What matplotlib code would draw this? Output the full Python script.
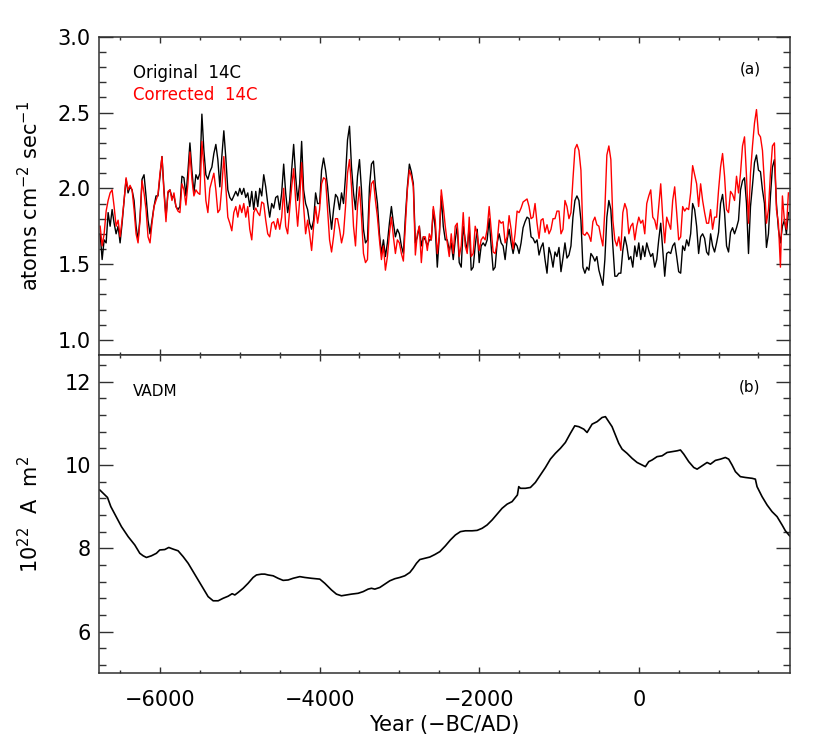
import numpy as np
import matplotlib
matplotlib.use("Agg")
import matplotlib.pyplot as plt
from matplotlib.ticker import MultipleLocator, FixedLocator, FormatStrFormatter

# 14C production rate, sampled every 25 yr from 6750 BC
orig_14c = [
    1.70, 1.53, 1.66, 1.64, 1.84, 1.75, 1.86, 1.77, 1.70, 1.75,
    1.64, 1.77, 1.92, 2.06, 1.97, 2.01, 1.99, 1.92, 1.75, 1.66,
    1.81, 2.06, 2.09, 1.95, 1.79, 1.70, 1.79, 1.88, 1.95, 1.95,
    2.08, 2.21, 1.99, 1.81, 1.97, 1.99, 1.94, 1.95, 1.88, 1.86,
    1.88, 2.08, 2.07, 1.95, 2.11, 2.30, 2.12, 1.97, 2.09, 2.06,
    2.10, 2.49, 2.25, 2.09, 2.06, 2.11, 2.14, 2.23, 2.29, 2.19,
    2.01, 2.21, 2.38, 2.20, 1.99, 1.94, 1.92, 1.95, 1.98, 1.95,
    2.00, 1.96, 2.00, 1.94, 1.97, 1.88, 1.98, 1.86, 1.98, 1.88,
    2.00, 1.95, 2.09, 2.01, 1.90, 1.81, 1.90, 1.87, 1.94, 1.95,
    1.86, 1.97, 2.16, 1.97, 1.84, 1.92, 2.12, 2.29, 2.08, 1.92,
    2.03, 2.31, 1.99, 1.90, 1.86, 1.77, 1.73, 1.79, 1.97, 1.90,
    1.90, 2.12, 2.20, 2.12, 2.01, 1.86, 1.73, 1.86, 1.96, 1.94,
    1.86, 1.97, 1.90, 2.08, 2.32, 2.41, 2.14, 1.97, 1.86, 2.08,
    2.19, 1.99, 1.73, 1.64, 1.66, 2.01, 2.16, 2.18, 2.01, 1.90,
    1.70, 1.57, 1.66, 1.55, 1.64, 1.77, 1.88, 1.77, 1.68, 1.73,
    1.70, 1.62, 1.57, 1.81, 2.01, 2.16, 2.11, 2.03, 1.64, 1.68,
    1.75, 1.62, 1.68, 1.66, 1.62, 1.66, 1.66, 1.86, 1.73, 1.48,
    1.68, 1.95, 1.75, 1.66, 1.66, 1.59,
    1.64, 1.53, 1.66, 1.75, 1.51, 1.48, 1.75, 1.66, 1.59, 1.75,
    1.46, 1.48, 1.62, 1.73, 1.51, 1.62, 1.64, 1.62, 1.66, 1.80,
    1.62, 1.46, 1.48, 1.64, 1.70, 1.64, 1.62, 1.53, 1.66, 1.73,
    1.64, 1.57, 1.64, 1.62, 1.57, 1.64, 1.74, 1.78, 1.81, 1.80,
    1.68, 1.67, 1.64, 1.66, 1.56, 1.61, 1.64, 1.53, 1.44, 1.61,
    1.56, 1.48, 1.58, 1.55, 1.61, 1.45, 1.54, 1.64, 1.54, 1.56,
    1.62, 1.81, 1.92, 1.95, 1.92, 1.79, 1.48, 1.44, 1.48, 1.46,
    1.57, 1.55, 1.52, 1.55, 1.46, 1.41, 1.36, 1.53, 1.81, 1.92,
    1.86, 1.62, 1.42, 1.42, 1.44,
    1.44, 1.59, 1.68, 1.62, 1.53, 1.55, 1.48, 1.62, 1.55, 1.64,
    1.53, 1.62, 1.55, 1.64, 1.59, 1.55, 1.57, 1.48, 1.53, 1.66,
    1.77, 1.59, 1.42, 1.57, 1.58, 1.57, 1.62, 1.64, 1.55, 1.45,
    1.44, 1.62, 1.59, 1.66, 1.62, 1.70, 1.90, 1.86, 1.75, 1.57,
    1.68, 1.70, 1.67, 1.58, 1.56, 1.70, 1.62, 1.58, 1.64, 1.71,
    1.90, 1.96, 1.84, 1.62, 1.58, 1.71, 1.74, 1.70, 1.74, 1.79,
    1.99, 2.05, 2.07, 1.90, 1.57, 1.88, 2.02, 2.17, 2.22, 2.12,
    2.11, 1.99, 1.90, 1.61, 1.70, 1.95, 2.14, 2.19, 1.90, 1.73,
    1.64, 1.75, 1.79, 1.70, 1.84,
]

corr_14c = [
    1.75, 1.62, 1.70, 1.85, 1.92, 1.97, 1.99, 1.88, 1.75, 1.79,
    1.68, 1.79, 1.92, 2.07, 1.99, 2.02, 1.99, 1.86, 1.70, 1.64,
    1.79, 2.05, 1.97, 1.86, 1.68, 1.64, 1.77, 1.88, 1.92, 1.96,
    2.10, 2.21, 1.97, 1.78, 1.98, 1.99, 1.92, 1.97, 1.88, 1.85,
    1.84, 2.03, 1.99, 1.89, 2.03, 2.24, 2.06, 1.95, 1.99, 1.97,
    1.96, 2.31, 2.14, 1.92, 1.84, 2.00, 2.05, 2.10, 1.99, 1.84,
    1.86, 2.01, 2.21, 2.01, 1.81, 1.77, 1.72, 1.84, 1.88, 1.81,
    1.89, 1.84, 1.90, 1.81, 1.88, 1.73, 1.66, 1.84, 1.87, 1.84,
    1.82, 1.91, 1.90, 1.79, 1.70, 1.68, 1.77, 1.78, 1.73, 1.80,
    1.73, 1.81, 2.00, 1.75, 1.70, 1.86, 2.01, 2.13, 1.92, 1.75,
    1.92, 2.17, 1.88, 1.70, 1.79, 1.70, 1.59, 1.75, 1.88, 1.77,
    1.86, 2.03, 2.07, 2.06, 1.86, 1.66, 1.58, 1.68, 1.80, 1.80,
    1.73, 1.64, 1.70, 1.88, 2.10, 2.19, 2.01, 1.75, 1.62, 1.88,
    2.01, 1.81, 1.57, 1.51, 1.53, 1.90, 2.03, 2.05, 1.92, 1.81,
    1.66, 1.53, 1.62, 1.46, 1.55, 1.70, 1.81, 1.68, 1.57, 1.66,
    1.64, 1.57, 1.52, 1.75, 1.99, 2.12, 2.08, 2.01, 1.56, 1.70,
    1.75, 1.51, 1.68, 1.68, 1.59, 1.70, 1.66, 1.88, 1.79, 1.57,
    1.68, 1.99, 1.88, 1.75, 1.64, 1.55,
    1.70, 1.57, 1.75, 1.77, 1.55, 1.62, 1.84, 1.62, 1.57, 1.81,
    1.55, 1.57, 1.75, 1.70, 1.59, 1.66, 1.68, 1.66, 1.73, 1.88,
    1.73, 1.58, 1.57, 1.64, 1.79, 1.77, 1.78, 1.64, 1.68, 1.82,
    1.73, 1.60, 1.70, 1.85, 1.84, 1.87, 1.91, 1.92, 1.93, 1.88,
    1.80, 1.81, 1.90, 1.77, 1.67, 1.79, 1.80, 1.71, 1.76, 1.70,
    1.73, 1.80, 1.80, 1.85, 1.85, 1.70, 1.73, 1.92, 1.88, 1.80,
    1.84, 2.06, 2.26, 2.29, 2.25, 2.12, 1.70, 1.69, 1.71, 1.69,
    1.65, 1.78, 1.81, 1.76, 1.75, 1.68, 1.62, 1.86, 2.22, 2.28,
    2.19, 1.79, 1.66, 1.62, 1.68,
    1.59, 1.84, 1.90, 1.86, 1.70, 1.75, 1.77, 1.66, 1.75, 1.81,
    1.77, 1.79, 1.70, 1.90, 1.95, 1.99, 1.81, 1.79, 1.73, 1.88,
    2.03, 1.81, 1.64, 1.81, 1.77, 1.73, 1.92, 2.01, 1.84, 1.66,
    1.68, 1.88, 1.85, 1.87, 1.86, 1.97, 2.15, 2.09, 2.03, 1.88,
    2.03, 1.92, 1.84, 1.77, 1.77, 1.86, 1.73, 1.81, 1.81, 1.99,
    2.14, 2.23, 2.08, 1.86, 1.84, 1.98, 1.96, 1.92, 2.08, 1.97,
    2.10, 2.28, 2.34, 2.08, 1.77, 2.10, 2.28, 2.43, 2.52, 2.36,
    2.34, 2.25, 2.03, 1.77, 1.86, 2.10, 2.28, 2.30, 1.86, 1.77,
    1.48, 1.95, 1.79, 1.73, 1.97,
]

year_orig = -6750 + 25 * np.arange(len(orig_14c))
year_corr = -6750 + 25 * np.arange(len(corr_14c))

# virtual axial dipole moment (10^22 A m^2)
vadm_year = [
    -6754, -6658, -6616, -6566, -6483, -6399, -6316, -6253, -6211, -6170,
    -6107, -6045, -6003, -5940, -5890, -5835, -5773, -5710, -5647, -5585,
    -5522, -5459, -5397, -5334, -5271, -5209, -5146, -5096, -5062, -5021,
    -4958, -4896, -4833, -4791, -4729, -4687, -4645, -4582, -4520, -4457,
    -4394, -4332, -4248, -4186, -4102, -3997, -3935, -3851, -3789, -3726,
    -3663, -3601, -3517, -3454, -3392, -3350, -3308, -3245, -3183, -3120,
    -3057, -2995, -2932, -2869, -2828, -2786, -2744, -2681, -2619, -2556,
    -2493, -2423, -2361, -2298, -2235, -2173, -2089, -2026, -1963, -1901,
    -1838, -1775, -1713, -1650, -1588, -1521, -1504, -1483, -1421, -1358,
    -1296, -1233, -1170, -1108, -1045, -982, -920, -857, -802, -752,
    -689, -648, -585, -522, -460, -418, -376, -335, -293, -251,
    -209, -147, -84, -21, 41, 83, 125, 167, 229, 292,
    355, 417, 480, 522, 564, 626, 689, 731, 793, 856,
    898, 960, 1023, 1085, 1127, 1169, 1211, 1273, 1336, 1420,
    1461, 1482, 1545, 1608, 1670, 1733, 1796, 1837, 1890,
]
vadm = [
    9.40, 9.22, 9.00, 8.82, 8.52, 8.28, 8.08, 7.88, 7.82, 7.78,
    7.82, 7.88, 7.96, 7.97, 8.02, 7.98, 7.94, 7.80, 7.64, 7.44,
    7.24, 7.04, 6.84, 6.74, 6.74, 6.80, 6.85, 6.91, 6.88, 6.94,
    7.04, 7.16, 7.30, 7.36, 7.38, 7.38, 7.36, 7.34, 7.28, 7.23,
    7.24, 7.28, 7.32, 7.30, 7.28, 7.26, 7.16, 7.00, 6.90, 6.86,
    6.88, 6.90, 6.92, 6.96, 7.02, 7.04, 7.02, 7.06, 7.14, 7.22,
    7.27, 7.30, 7.34, 7.42, 7.52, 7.64, 7.73, 7.76, 7.79, 7.85,
    7.92, 8.06, 8.20, 8.32, 8.40, 8.42, 8.42, 8.43, 8.48, 8.56,
    8.68, 8.82, 8.96, 9.06, 9.12, 9.28, 9.48, 9.44, 9.44, 9.46,
    9.58, 9.76, 9.94, 10.14, 10.28, 10.40, 10.54, 10.76, 10.94, 10.92,
    10.86, 10.78, 10.98, 11.04, 11.14, 11.16, 11.04, 10.92, 10.72, 10.52,
    10.38, 10.28, 10.16, 10.06, 10.00, 9.96, 10.08, 10.12, 10.20, 10.22,
    10.30, 10.32, 10.34, 10.36, 10.26, 10.08, 9.94, 9.90, 9.98, 10.06,
    10.02, 10.11, 10.14, 10.18, 10.14, 10.00, 9.84, 9.72, 9.70, 9.68,
    9.66, 9.48, 9.24, 9.04, 8.88, 8.76, 8.56, 8.42, 8.30,
]

spine_col = '#303030'

fig = plt.figure(figsize=(8.3, 7.48), dpi=100)
ax1 = fig.add_axes([0.1196, 0.5254, 0.8322, 0.4253])
ax2 = fig.add_axes([0.1196, 0.0999, 0.8322, 0.4255], sharex=ax1)

ax1.plot(year_orig, orig_14c, color='black', lw=1.0)
ax1.plot(year_corr, corr_14c, color='red', lw=1.0)
ax2.plot(vadm_year, vadm, color='black', lw=1.2)

ax1.set_xlim(-6761, 1895)
ax1.set_ylim(0.9, 3.0)
ax2.set_ylim(5.0, 12.64)

ax1.yaxis.set_major_locator(FixedLocator([1.0, 1.5, 2.0, 2.5, 3.0]))
ax1.yaxis.set_minor_locator(MultipleLocator(0.1))
ax1.yaxis.set_major_formatter(FormatStrFormatter('%.1f'))
ax2.yaxis.set_major_locator(FixedLocator([6, 8, 10, 12]))
ax2.yaxis.set_minor_locator(MultipleLocator(0.4))
ax2.xaxis.set_major_locator(MultipleLocator(2000))
ax2.xaxis.set_minor_locator(MultipleLocator(500))

for ax in (ax1, ax2):
    for s in ax.spines.values():
        s.set_linewidth(1.1)
        s.set_color(spine_col)
    ax.tick_params(which='both', direction='in', top=True, right=True,
                   color=spine_col, width=1.0, labelsize=15)
    ax.tick_params(axis='x', which='major', length=4.5, pad=12)
    ax.tick_params(axis='x', which='minor', length=2.2)
    ax.tick_params(axis='y', which='major', length=10, pad=6)
    ax.tick_params(axis='y', which='minor', length=5)
ax1.tick_params(axis='x', labelbottom=False)

ax1.set_ylabel('atoms cm$^{-2}$ sec$^{-1}$', fontsize=15)
ax1.yaxis.set_label_coords(-0.082, 0.5)
ax2.set_ylabel('10$^{22}$  A  m$^{2}$', fontsize=15)
ax2.yaxis.set_label_coords(-0.082, 0.5)
ax2.set_xlabel('Year (\u2212BC/AD)', fontsize=15, labelpad=4)

ax1.text(0.049, 0.887, 'Original  14C', transform=ax1.transAxes,
         fontsize=12, color='black', va='center')
ax1.text(0.049, 0.818, 'Corrected  14C', transform=ax1.transAxes,
         fontsize=12, color='red', va='center')
ax1.text(0.942, 0.899, '(a)', transform=ax1.transAxes,
         fontsize=11, ha='center', va='center')
ax2.text(0.049, 0.884, 'VADM', transform=ax2.transAxes,
         fontsize=11, va='center')
ax2.text(0.942, 0.899, '(b)', transform=ax2.transAxes,
         fontsize=11, ha='center', va='center')

fig.savefig('out.png', dpi=100)
